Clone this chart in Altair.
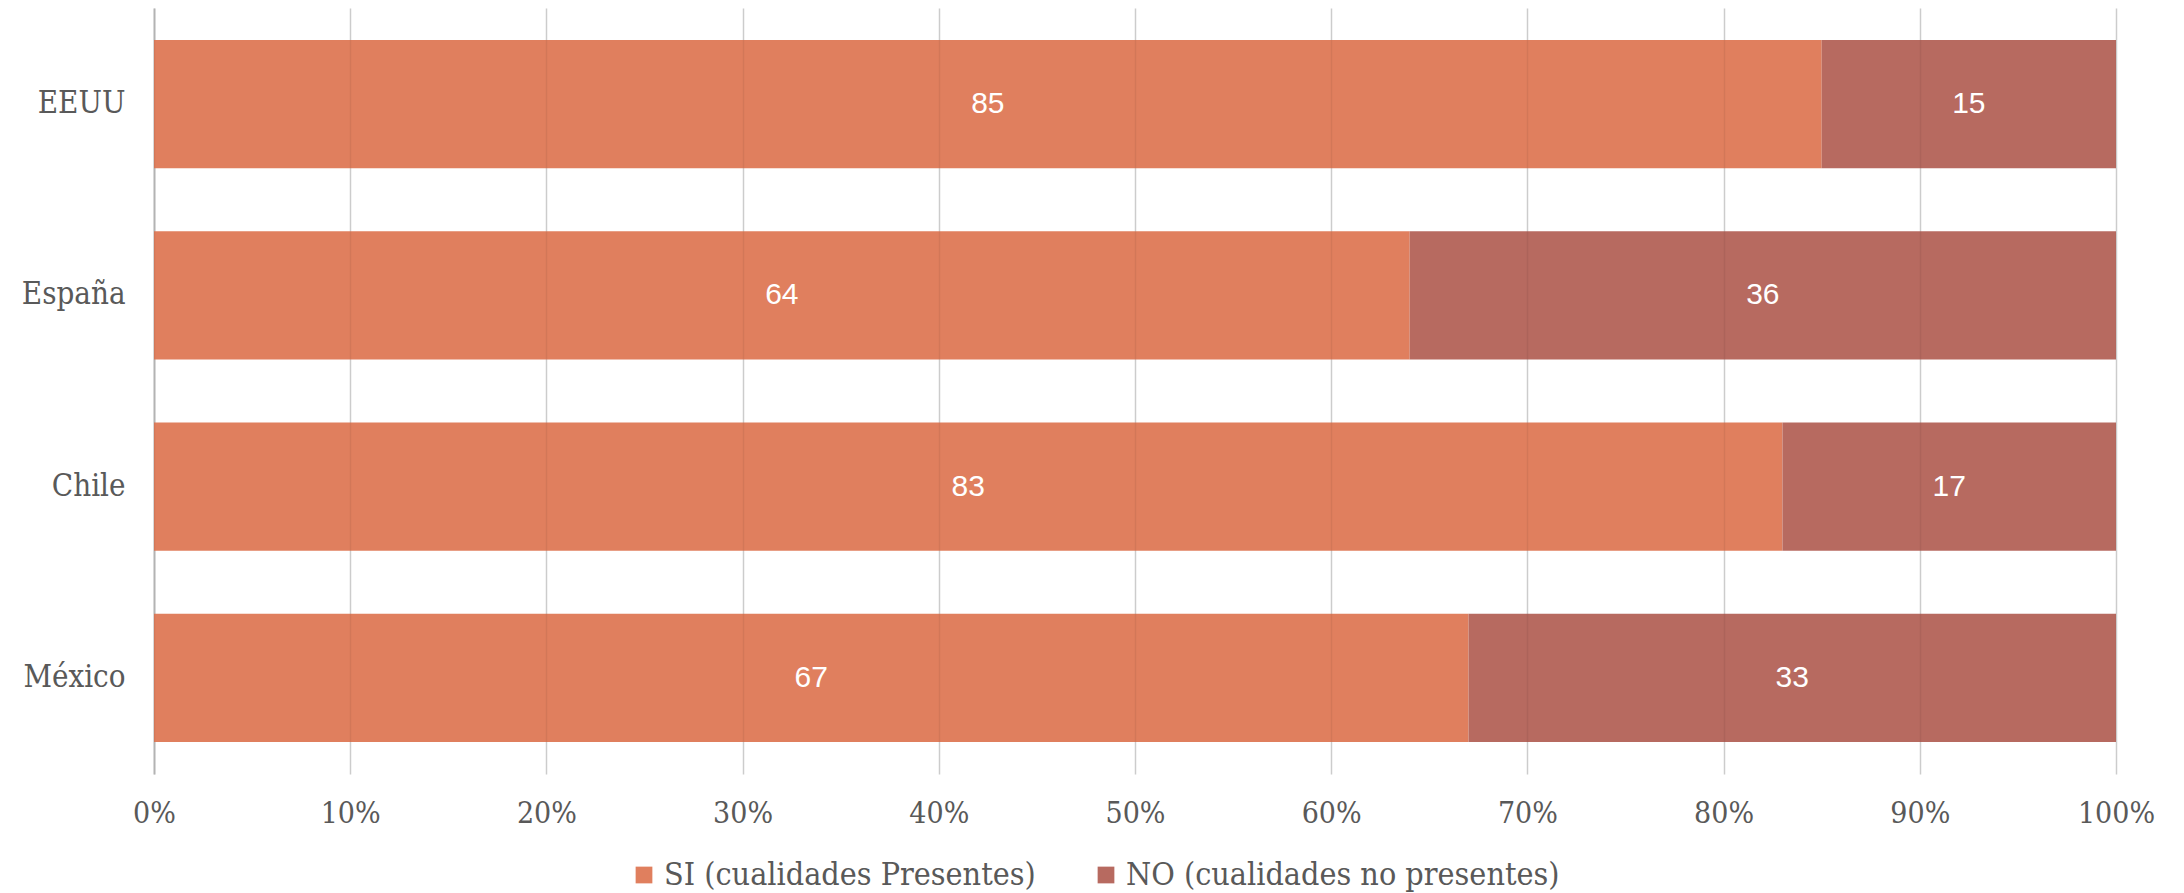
import altair as alt
import pandas as pd

countries = ["EEUU", "España", "Chile", "México"]
si_values = [85, 64, 83, 67]
no_values = [15, 36, 17, 33]
series = ["SI (cualidades Presentes)", "NO (cualidades no presentes)"]
colors = ["#E07F5E", "#B76A60"]
x_ticks = [0, 10, 20, 30, 40, 50, 60, 70, 80, 90, 100]

rows = []
for c, s, n in zip(countries, si_values, no_values):
    rows.append({"pais": c, "serie": series[0], "orden": 0, "valor": s})
    rows.append({"pais": c, "serie": series[1], "orden": 1, "valor": n})
df = pd.DataFrame(rows)

SERIF = "DejaVu Serif Condensed"
GRAY = "#595959"

base = alt.Chart(df).transform_stack(
    stack="valor", groupby=["pais"], as_=["x0", "x1"], sort=[alt.SortField("orden")]
).transform_calculate(mid="(datum.x0 + datum.x1) / 2")

xscale = alt.Scale(domain=[0, 100], nice=False)
yscale = alt.Scale(domain=countries, paddingInner=0.33, paddingOuter=0.167)
yaxis = alt.Axis(
    title=None, labelFont=SERIF, labelFontSize=31, labelColor=GRAY,
    labelPadding=29, ticks=False, domainColor="#BFBFBF", domainWidth=2, grid=False)

bars = base.mark_bar().encode(
    x=alt.X("x0:Q", scale=xscale, axis=alt.Axis(
        values=x_ticks, labelExpr="datum.value + '%'", title=None, grid=True,
        gridColor="#D9D9D9", gridWidth=1.5, domain=False, ticks=False, labelFlush=False,
        labelFont=SERIF, labelFontSize=30, labelColor=GRAY, labelPadding=24)),
    x2="x1:Q",
    y=alt.Y("pais:N", scale=yscale, axis=yaxis),
    color=alt.Color("serie:N", scale=alt.Scale(domain=series, range=colors),
                    legend=alt.Legend(
                        orient="none", legendX=474, legendY=851, direction="horizontal",
                        title=None, symbolType="square", symbolSize=280, symbolStrokeWidth=0,
                        labelFont=SERIF, labelFontSize=32, labelColor=GRAY, labelLimit=800,
                        labelOffset=4, columnPadding=54, padding=0)),
)

labels = base.mark_text(font="Liberation Sans", fontSize=30, color="white").encode(
    x=alt.X("mid:Q", scale=xscale, axis=alt.Axis(
        orient="top", values=x_ticks, grid=True, gridColor="#000000", gridOpacity=0.06,
        gridWidth=1.5, labels=False, ticks=False, domain=False, zindex=1, title=None)),
    y=alt.Y("pais:N", scale=yscale, axis=yaxis),
    text="valor:Q",
)

chart = alt.layer(bars, labels).resolve_axis(x="independent").properties(
    width=1962, height=766,
    autosize=alt.AutoSizeParams(type="none"),
    padding={"left": 146, "top": 0, "right": 60, "bottom": 125},
).configure_view(stroke=None)

chart.save("out.html", embed_options={"renderer": "svg", "actions": False})
